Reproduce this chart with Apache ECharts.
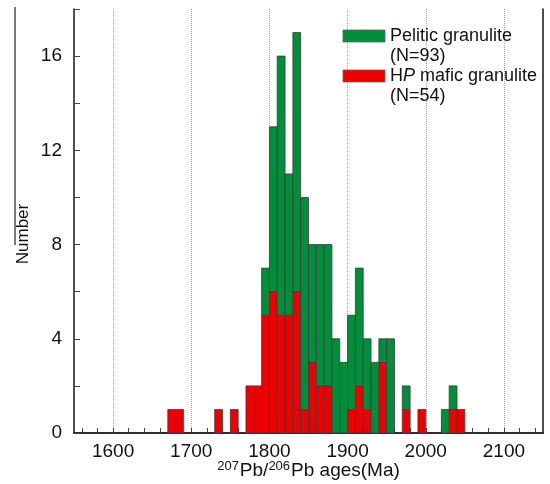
<!DOCTYPE html>
<html>
<head>
<meta charset="utf-8">
<script src="https://cdn.jsdelivr.net/npm/echarts@6/dist/echarts.min.js"></script>
<style>
  html, body { margin: 0; padding: 0; background: #fff; }
  #chart { width: 550px; height: 484px; }
</style>
</head>
<body>
<div id="chart"></div>
<script>
// 10 Ma bins, start age of each non-empty bin
const binStarts = [1670, 1680, 1730, 1750, 1770, 1780, 1790, 1800, 1810, 1820, 1830, 1840, 1850, 1860,
  1870, 1880, 1890, 1900, 1910, 1920, 1930, 1940, 1950, 1970, 1990, 2020, 2030, 2040]
// counts per bin (stacked: red at the bottom, green on top)
const hpMafic = [1, 1, 1, 1, 2, 2, 5, 6, 5, 5, 6, 1, 3, 2, 2, 0, 0, 1, 2, 1, 0, 3, 0, 1, 1, 0, 1, 1]
const pelitic = [0, 0, 0, 0, 0, 0, 2, 7, 11, 6, 11, 9, 5, 6, 6, 4, 3, 4, 5, 3, 3, 1, 4, 1, 0, 1, 1, 0]
const binWidth = 10

const xLabels = [1600, 1700, 1800, 1900, 2000, 2100]
const yLabels = [0, 4, 8, 12, 16]

const FONT = '"Liberation Sans", Arial, sans-serif'
const GREEN = '#008E3A'
const RED = '#EE0000'

const chart = echarts.init(document.getElementById('chart'))

// every 20 Ma a small inward tick
const xTicks = []
for (let v = 1560; v <= 2140; v += 20) xTicks.push(v)

const redData = []
const greenData = []
binStarts.forEach((s, i) => {
  if (hpMafic[i] > 0) redData.push([s, s + binWidth, 0, hpMafic[i]])
  if (pelitic[i] > 0) greenData.push([s, s + binWidth, hpMafic[i], hpMafic[i] + pelitic[i]])
})

function renderBin(color) {
  return function (params, api) {
    const p0 = api.coord([api.value(0), api.value(3)])
    const p1 = api.coord([api.value(1), api.value(2)])
    return {
      type: 'rect',
      shape: { x: p0[0], y: p0[1], width: p1[0] - p0[0], height: p1[1] - p0[1] },
      style: { fill: color, stroke: '#3c3c3c', lineWidth: 0.8 }
    }
  }
}

const option = {
  animation: false,
  textStyle: { fontFamily: FONT },
  grid: { left: 74, right: 7, top: 9, bottom: 51, outerBoundsMode: 'none' },
  xAxis: [
    {
      type: 'value',
      min: 1550,
      max: 2150,
      position: 'bottom',
      axisLine: { lineStyle: { color: '#222', width: 1.6 } },
      axisTick: { inside: true, length: 5, customValues: xTicks, lineStyle: { color: '#444' } },
      axisLabel: {
        customValues: xLabels,
        fontSize: 19,
        color: '#111',
        margin: 9,
        fontFamily: FONT,
        formatter: v => String(v)
      },
      splitLine: { show: false },
      name: '{sup|207}Pb/{sup|206}Pb ages(Ma)',
      nameLocation: 'middle',
      nameGap: 27,
      nameMoveOverlap: false,
      nameTextStyle: {
        fontSize: 19,
        lineHeight: 22,
        color: '#111',
        fontFamily: FONT,
        rich: {
          sup: { fontSize: 13, lineHeight: 22, verticalAlign: 'top', padding: [0, 1, 0, 0], color: '#111', fontFamily: FONT }
        }
      }
    },
    {
      type: 'value',
      min: 1550,
      max: 2150,
      position: 'top',
      axisLine: { show: true, lineStyle: { color: '#222', width: 1.6 } },
      axisTick: { show: true, length: 0, customValues: xLabels, lineStyle: { opacity: 0 } },
      axisLabel: { show: false },
      splitLine: { show: true, lineStyle: { color: '#a0a0a0', type: 'dotted', width: 1 } }
    }
  ],
  yAxis: [
    {
      type: 'value',
      min: 0,
      max: 18,
      interval: 2,
      position: 'left',
      axisLine: { show: true, lineStyle: { color: '#222', width: 1.6 } },
      axisTick: { show: true, inside: true, length: 6, lineStyle: { color: '#444' } },
      axisLabel: {
        fontSize: 19,
        color: '#111',
        margin: 12,
        fontFamily: FONT,
        formatter: v => (yLabels.indexOf(v) >= 0 ? String(v) : '')
      },
      splitLine: { show: false },
      name: 'Number',
      nameLocation: 'middle',
      nameRotate: 90,
      nameGap: 42,
      nameMoveOverlap: false,
      nameTextStyle: { fontSize: 17, color: '#111', fontFamily: FONT, padding: [0, 26, 0, 0] }
    },
    {
      type: 'value',
      min: 0,
      max: 18,
      position: 'right',
      axisLine: { show: true, lineStyle: { color: '#222', width: 1.6 } },
      axisTick: { show: false },
      axisLabel: { show: false },
      splitLine: { show: false }
    }
  ],
  series: [
    {
      name: 'HP mafic granulite',
      type: 'custom',
      xAxisIndex: 0,
      yAxisIndex: 0,
      renderItem: renderBin(RED),
      encode: { x: [0, 1], y: [2, 3] },
      data: redData,
      z: 3
    },
    {
      name: 'Pelitic granulite',
      type: 'custom',
      xAxisIndex: 0,
      yAxisIndex: 0,
      renderItem: renderBin(GREEN),
      encode: { x: [0, 1], y: [2, 3] },
      data: greenData,
      z: 3
    }
  ],
  graphic: [
    // stray vertical stroke left of the y-axis title in the original figure
    {
      type: 'line',
      shape: { x1: 15, y1: 7, x2: 15, y2: 245 },
      style: { stroke: '#222', lineWidth: 1.2 }
    },
    // legend
    {
      type: 'rect',
      shape: { x: 343, y: 30, width: 42, height: 12 },
      style: { fill: GREEN, stroke: '#666', lineWidth: 0.8 },
      z: 10
    },
    {
      type: 'rect',
      shape: { x: 343, y: 70, width: 42, height: 12 },
      style: { fill: RED, stroke: '#666', lineWidth: 0.8 },
      z: 10
    },
    {
      type: 'text',
      left: 390,
      top: 26,
      z: 10,
      style: {
        text: 'Pelitic granulite\n(N=93)\n{n|H}{i|P}{n| mafic granulite}\n(N=54)',
        fontSize: 18,
        lineHeight: 20,
        fontFamily: FONT,
        fill: '#111',
        rich: {
          n: { fontSize: 18, fontFamily: FONT, fill: '#111', lineHeight: 20 },
          i: { fontSize: 18, fontFamily: FONT, fontStyle: 'italic', fill: '#111', lineHeight: 20 }
        }
      }
    }
  ]
}

chart.setOption(option)
</script>
</body>
</html>
